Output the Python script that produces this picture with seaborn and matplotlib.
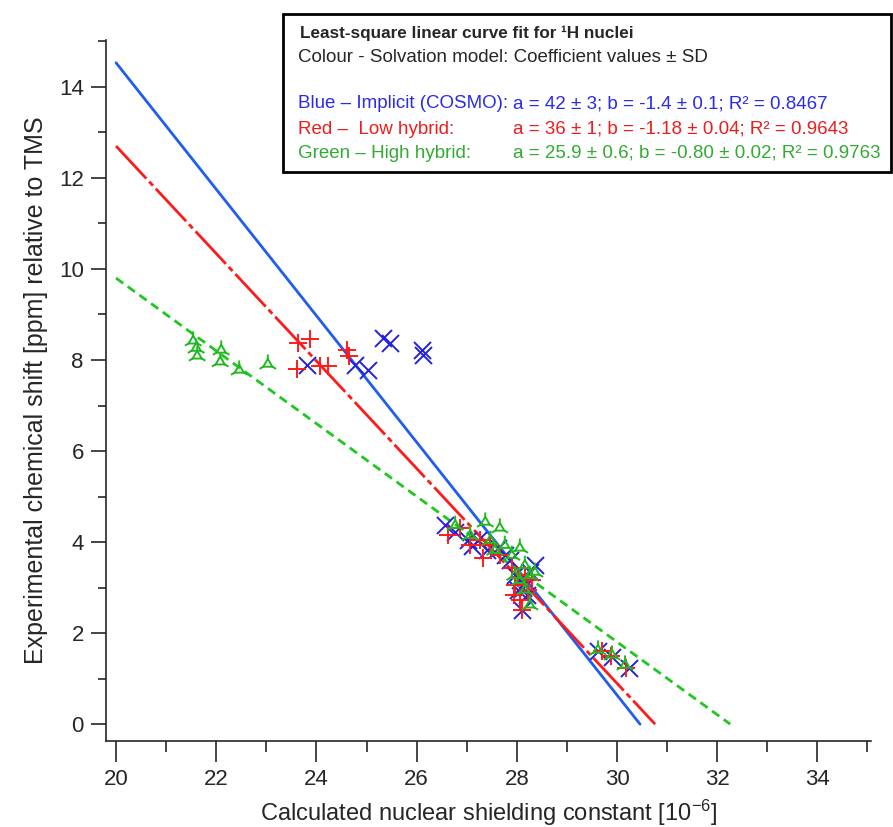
import numpy as np
import pandas as pd
import matplotlib
matplotlib.use('Agg')
import matplotlib.pyplot as plt
import seaborn as sns
from matplotlib.path import Path
from matplotlib.patches import Rectangle
from matplotlib.ticker import MultipleLocator

# fitted line end points (x at left, y at left, x where y=0)
line_x0 = 20.0
blue_line = [14.53, 30.46]
red_line = [12.70, 30.76]
green_line = [9.80, 32.26]

# Blue - implicit (COSMO)
blue_x = [23.81, 24.77, 25.03, 25.33, 25.47, 26.11, 26.13,
          26.57, 26.77, 27.03, 27.11, 27.23, 27.41, 27.62, 27.76, 27.86, 27.96,
          28.06, 28.12, 28.20, 28.10, 28.26, 28.36, 28.02,
          29.62, 29.90, 30.24]
blue_y = [7.89, 7.89, 7.78, 8.48, 8.37, 8.22, 8.11,
          4.37, 4.22, 4.04, 3.91, 4.04, 3.82, 3.87, 3.71, 3.60, 3.27,
          3.16, 2.99, 2.84, 2.51, 3.34, 3.49, 2.95,
          1.60, 1.47, 1.23]

# Red - low hybrid
red_x = [23.63, 23.87, 23.61, 24.07, 24.23, 24.61, 24.65,
         26.63, 26.87, 27.07, 27.27, 27.33, 27.47, 27.66, 27.90, 27.96, 28.02,
         28.16, 28.22, 28.06, 28.10, 28.30, 27.94,
         29.70, 29.88, 30.18]
red_y = [8.37, 8.46, 7.80, 7.87, 7.87, 8.22, 8.09,
         4.15, 4.31, 3.93, 4.04, 3.65, 3.93, 3.71, 3.43, 3.05, 3.21,
         3.27, 2.95, 2.73, 2.51, 3.16, 2.84,
         1.60, 1.49, 1.23]

# Green - high hybrid
green_x = [21.54, 21.60, 21.62, 22.10, 22.08, 22.46, 23.03,
           26.77, 27.07, 27.37, 27.66, 27.47, 27.56, 27.76, 27.90, 28.06, 28.16,
           28.26, 28.36, 28.06, 28.16, 28.26, 27.96,
           29.62, 29.90, 30.16]
green_y = [8.42, 8.26, 8.09, 8.22, 7.96, 7.78, 7.91,
           4.37, 4.15, 4.44, 4.31, 4.04, 3.82, 3.93, 3.71, 3.87, 3.49,
           3.27, 3.34, 3.16, 2.95, 2.62, 3.27,
           1.63, 1.52, 1.30]

sns.set_style('ticks')
plt.rcParams['font.family'] = ['Liberation Sans', 'DejaVu Sans']
plt.rcParams['mathtext.fontset'] = 'custom'
plt.rcParams['mathtext.rm'] = 'Liberation Sans'
plt.rcParams['mathtext.it'] = 'Liberation Sans'

fig = plt.figure(figsize=(8.93, 8.27), dpi=100)
ax = fig.add_axes([106/893, 1 - 741/827, (871-106)/893, (741-40)/827])

c_blue_line = '#1f5cf0'
c_red = '#ff1a1a'
c_green_line = '#1ec81e'
c_blue_mk = '#2222dd'
c_green_mk = '#22b822'

sns.lineplot(x=[line_x0, blue_line[1]], y=[blue_line[0], 0], color=c_blue_line,
             lw=2.0, ax=ax, zorder=2)
sns.lineplot(x=[line_x0, red_line[1]], y=[red_line[0], 0], color=c_red,
             lw=2.0, linestyle=(0, (16, 1.5, 2, 1.5)), ax=ax, zorder=2)
sns.lineplot(x=[line_x0, green_line[1]], y=[green_line[0], 0], color=c_green_line,
             lw=2.0, linestyle=(0, (3.2, 2)), ax=ax, zorder=2)

# open triangle with spikes, like the original marker
r1, r2 = 0.55, 1.0
verts, codes = [], []
angs = np.deg2rad([90, 210, 330])
tri = [(r1*np.cos(a), r1*np.sin(a)) for a in angs]
verts += tri + [tri[0]]
codes += [Path.MOVETO, Path.LINETO, Path.LINETO, Path.LINETO]
for a in angs:
    verts += [(r1*np.cos(a), r1*np.sin(a)), (r2*np.cos(a), r2*np.sin(a))]
    codes += [Path.MOVETO, Path.LINETO]
tri_marker = Path(verts, codes)

sns.scatterplot(x=blue_x, y=blue_y, marker='x', s=150, color=c_blue_mk,
                linewidth=1.4, ax=ax, zorder=3)
sns.scatterplot(x=red_x, y=red_y, marker='+', s=170, color=c_red,
                linewidth=1.4, ax=ax, zorder=3)
sns.scatterplot(x=green_x, y=green_y, marker=tri_marker, s=190,
                facecolors='none', edgecolors=c_green_mk, linewidth=1.4,
                ax=ax, zorder=3)

ax.set_xlim(19.8, 35.07)
ax.set_ylim(-0.37, 15.03)
ax.xaxis.set_major_locator(MultipleLocator(2))
ax.xaxis.set_minor_locator(MultipleLocator(1))
ax.yaxis.set_major_locator(MultipleLocator(2))
ax.yaxis.set_minor_locator(MultipleLocator(1))
ax.tick_params(which='both', width=1.2, labelsize=16, direction='out')
ax.tick_params(axis='x', which='major', length=15, pad=5)
ax.tick_params(axis='x', which='minor', length=8)
ax.tick_params(axis='y', which='major', length=11, pad=5)
ax.tick_params(axis='y', which='minor', length=6)
sns.despine(ax=ax)
for s in ['left', 'bottom']:
    ax.spines[s].set_linewidth(1.2)

ax.set_xlabel(r'Calculated nuclear shielding constant [10$^{-6}$]', fontsize=17, labelpad=6)
ax.set_ylabel('Experimental chemical shift [ppm] relative to TMS', fontsize=18, labelpad=8)

# coefficient box
fig.patches.append(Rectangle((283/893, 1 - 172/827), (891-283)/893, (172-14)/827,
                             transform=fig.transFigure, fill=False, lw=2, edgecolor='black'))
fs = 13.5
fig.text(300/893, 1 - 33/827, 'Least-square linear curve fit for ¹H nuclei',
         fontsize=12.3, fontweight='bold', va='center')
fig.text(298/893, 1 - 58/827, 'Colour - Solvation model: Coefficient values ± SD',
         fontsize=fs, va='center')
rows = [('Blue – Implicit (COSMO):', 'a = 42 ± 3; b = -1.4 ± 0.1; R² = 0.8467', '#2a2aee', 104),
        ('Red –  Low hybrid:', 'a = 36 ± 1; b = -1.18 ± 0.04; R² = 0.9643', '#ee1c1c', 129),
        ('Green – High hybrid:', 'a = 25.9 ± 0.6; b = -0.80 ± 0.02; R² = 0.9763', '#33aa33', 153)]
for lab, val, col, py in rows:
    fig.text(298/893, 1 - py/827, lab, fontsize=fs, color=col, va='center')
    fig.text(513/893, 1 - py/827, val, fontsize=fs, color=col, va='center')

fig.savefig('out.png', dpi=100)
